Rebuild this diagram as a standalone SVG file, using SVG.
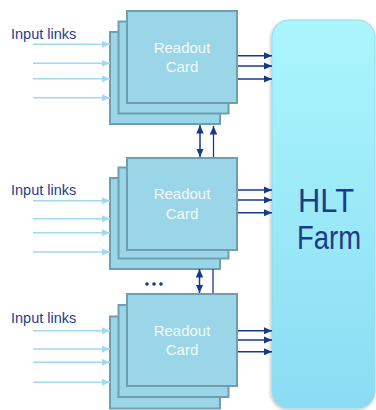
<svg xmlns="http://www.w3.org/2000/svg" width="376" height="410" viewBox="0 0 376 410">
  <defs>
    <linearGradient id="farmFill" x1="0" y1="0" x2="0" y2="1">
      <stop offset="0" stop-color="#abf6fd"/>
      <stop offset="1" stop-color="#8bdcf3"/>
    </linearGradient>
    <filter id="softShadow" x="-20%" y="-5%" width="140%" height="110%">
      <feDropShadow dx="-1" dy="1.5" stdDeviation="1.5" flood-color="#000" flood-opacity="0.25"/>
    </filter>
    <marker id="headNavy" markerUnits="userSpaceOnUse" markerWidth="9" markerHeight="8" refX="8.5" refY="3.75" orient="auto-start-reverse">
      <path d="M0,0 L8.5,3.75 L0,7.5 Z" fill="#17398c"/>
    </marker>
    <marker id="headLight" markerUnits="userSpaceOnUse" markerWidth="9" markerHeight="8" refX="8" refY="3.5" orient="auto">
      <path d="M0,0 L8,3.5 L0,7 Z" fill="#a3d9ee"/>
    </marker>
  </defs>
  <style>
    .card { fill: #9ad6e8; stroke: #6f9fae; stroke-width: 2; }
    .cardText { font-family: "Liberation Sans", Arial, sans-serif; font-size: 15px; fill: #f2fafc; text-anchor: middle; }
    .label { font-family: "Liberation Sans", Arial, sans-serif; font-size: 14.5px; fill: #1f3d8c; }
    .farmText { font-family: "Liberation Sans", Arial, sans-serif; font-size: 33px; fill: #1b3b8b; text-anchor: middle; }
    .inLink { stroke: #a3d9ee; stroke-width: 1.6; fill: none; marker-end: url(#headLight); }
    .outLink { stroke: #17398c; stroke-width: 1.5; fill: none; marker-end: url(#headNavy); }
    .biLink { stroke: #17398c; stroke-width: 1.5; fill: none; marker-start: url(#headNavy); marker-end: url(#headNavy); }
    .plain { stroke: #17398c; stroke-width: 1.3; fill: none; }
  </style>

  <!-- HLT farm -->
  <g id="hlt-farm">
    <rect x="272" y="20" width="103" height="388" rx="17" fill="url(#farmFill)" stroke="#93daee" stroke-width="1" filter="url(#softShadow)"/>
    <text class="farmText" x="326" y="211.5" textLength="56" lengthAdjust="spacingAndGlyphs">HLT</text>
    <text class="farmText" x="329" y="249" textLength="64" lengthAdjust="spacingAndGlyphs">Farm</text>
  </g>

  <!-- readout card stacks -->
  <g id="readout-1" transform="translate(127,11)">
    <rect class="card" x="-17" y="21" width="110" height="92"/>
    <rect class="card" x="-8.5" y="10.5" width="110" height="92"/>
    <rect class="card" x="0" y="0" width="110" height="92"/>
    <text class="cardText" x="55" y="42">Readout</text>
    <text class="cardText" x="55" y="61">Card</text>
  </g>
  <g id="readout-2" transform="translate(127,158)">
    <rect class="card" x="-17" y="20" width="110" height="91"/>
    <rect class="card" x="-8.5" y="9.5" width="110" height="91"/>
    <rect class="card" x="0" y="0" width="110" height="92"/>
    <text class="cardText" x="55" y="41">Readout</text>
    <text class="cardText" x="55" y="61">Card</text>
  </g>
  <g id="readout-3" transform="translate(127,294)">
    <rect class="card" x="-17" y="22.5" width="110" height="92"/>
    <rect class="card" x="-8.5" y="11" width="110" height="92"/>
    <rect class="card" x="0" y="0" width="110" height="92"/>
    <text class="cardText" x="55" y="42">Readout</text>
    <text class="cardText" x="55" y="61">Card</text>
  </g>

  <!-- input link labels -->
  <g id="labels">
    <text class="label" x="11" y="39">Input links</text>
    <text class="label" x="11" y="195">Input links</text>
    <text class="label" x="11" y="323">Input links</text>
  </g>

  <g id="connectors">
    <!-- input links -->
    <path class="inLink" d="M33,44.3 H110"/>
    <path class="inLink" d="M33,63.3 H110"/>
    <path class="inLink" d="M33,78.7 H110"/>
    <path class="inLink" d="M33,97.7 H110"/>
    <path class="inLink" d="M33,200.7 H110"/>
    <path class="inLink" d="M33,218.7 H110"/>
    <path class="inLink" d="M33,232.7 H110"/>
    <path class="inLink" d="M33,252 H110"/>
    <path class="inLink" d="M33,330.7 H110"/>
    <path class="inLink" d="M33,349 H110"/>
    <path class="inLink" d="M33,362.3 H110"/>
    <path class="inLink" d="M33,382.3 H110"/>

    <!-- outputs to the farm -->
    <path class="outLink" d="M238,55.7 H272"/>
    <path class="outLink" d="M238,66 H272"/>
    <path class="outLink" d="M238,79 H272"/>
    <path class="outLink" d="M238,190 H272"/>
    <path class="outLink" d="M238,200 H272"/>
    <path class="outLink" d="M238,212.7 H272"/>
    <path class="outLink" d="M238,330.7 H272"/>
    <path class="outLink" d="M238,340 H272"/>
    <path class="outLink" d="M238,351.7 H272"/>

    <!-- links between stacks -->
    <path class="biLink" d="M200,125 V157"/>
    <path class="plain" d="M213.5,157 V126" marker-end="url(#headNavy)"/>
    <path class="biLink" d="M199.5,269 V293"/>
    <path class="plain" d="M213,269 V293"/>
  </g>

  <!-- ellipsis between stacks -->
  <g id="ellipsis" fill="#17398c">
    <circle cx="147" cy="284" r="1.8"/>
    <circle cx="154" cy="284" r="1.8"/>
    <circle cx="161" cy="284" r="1.8"/>
  </g>
</svg>
